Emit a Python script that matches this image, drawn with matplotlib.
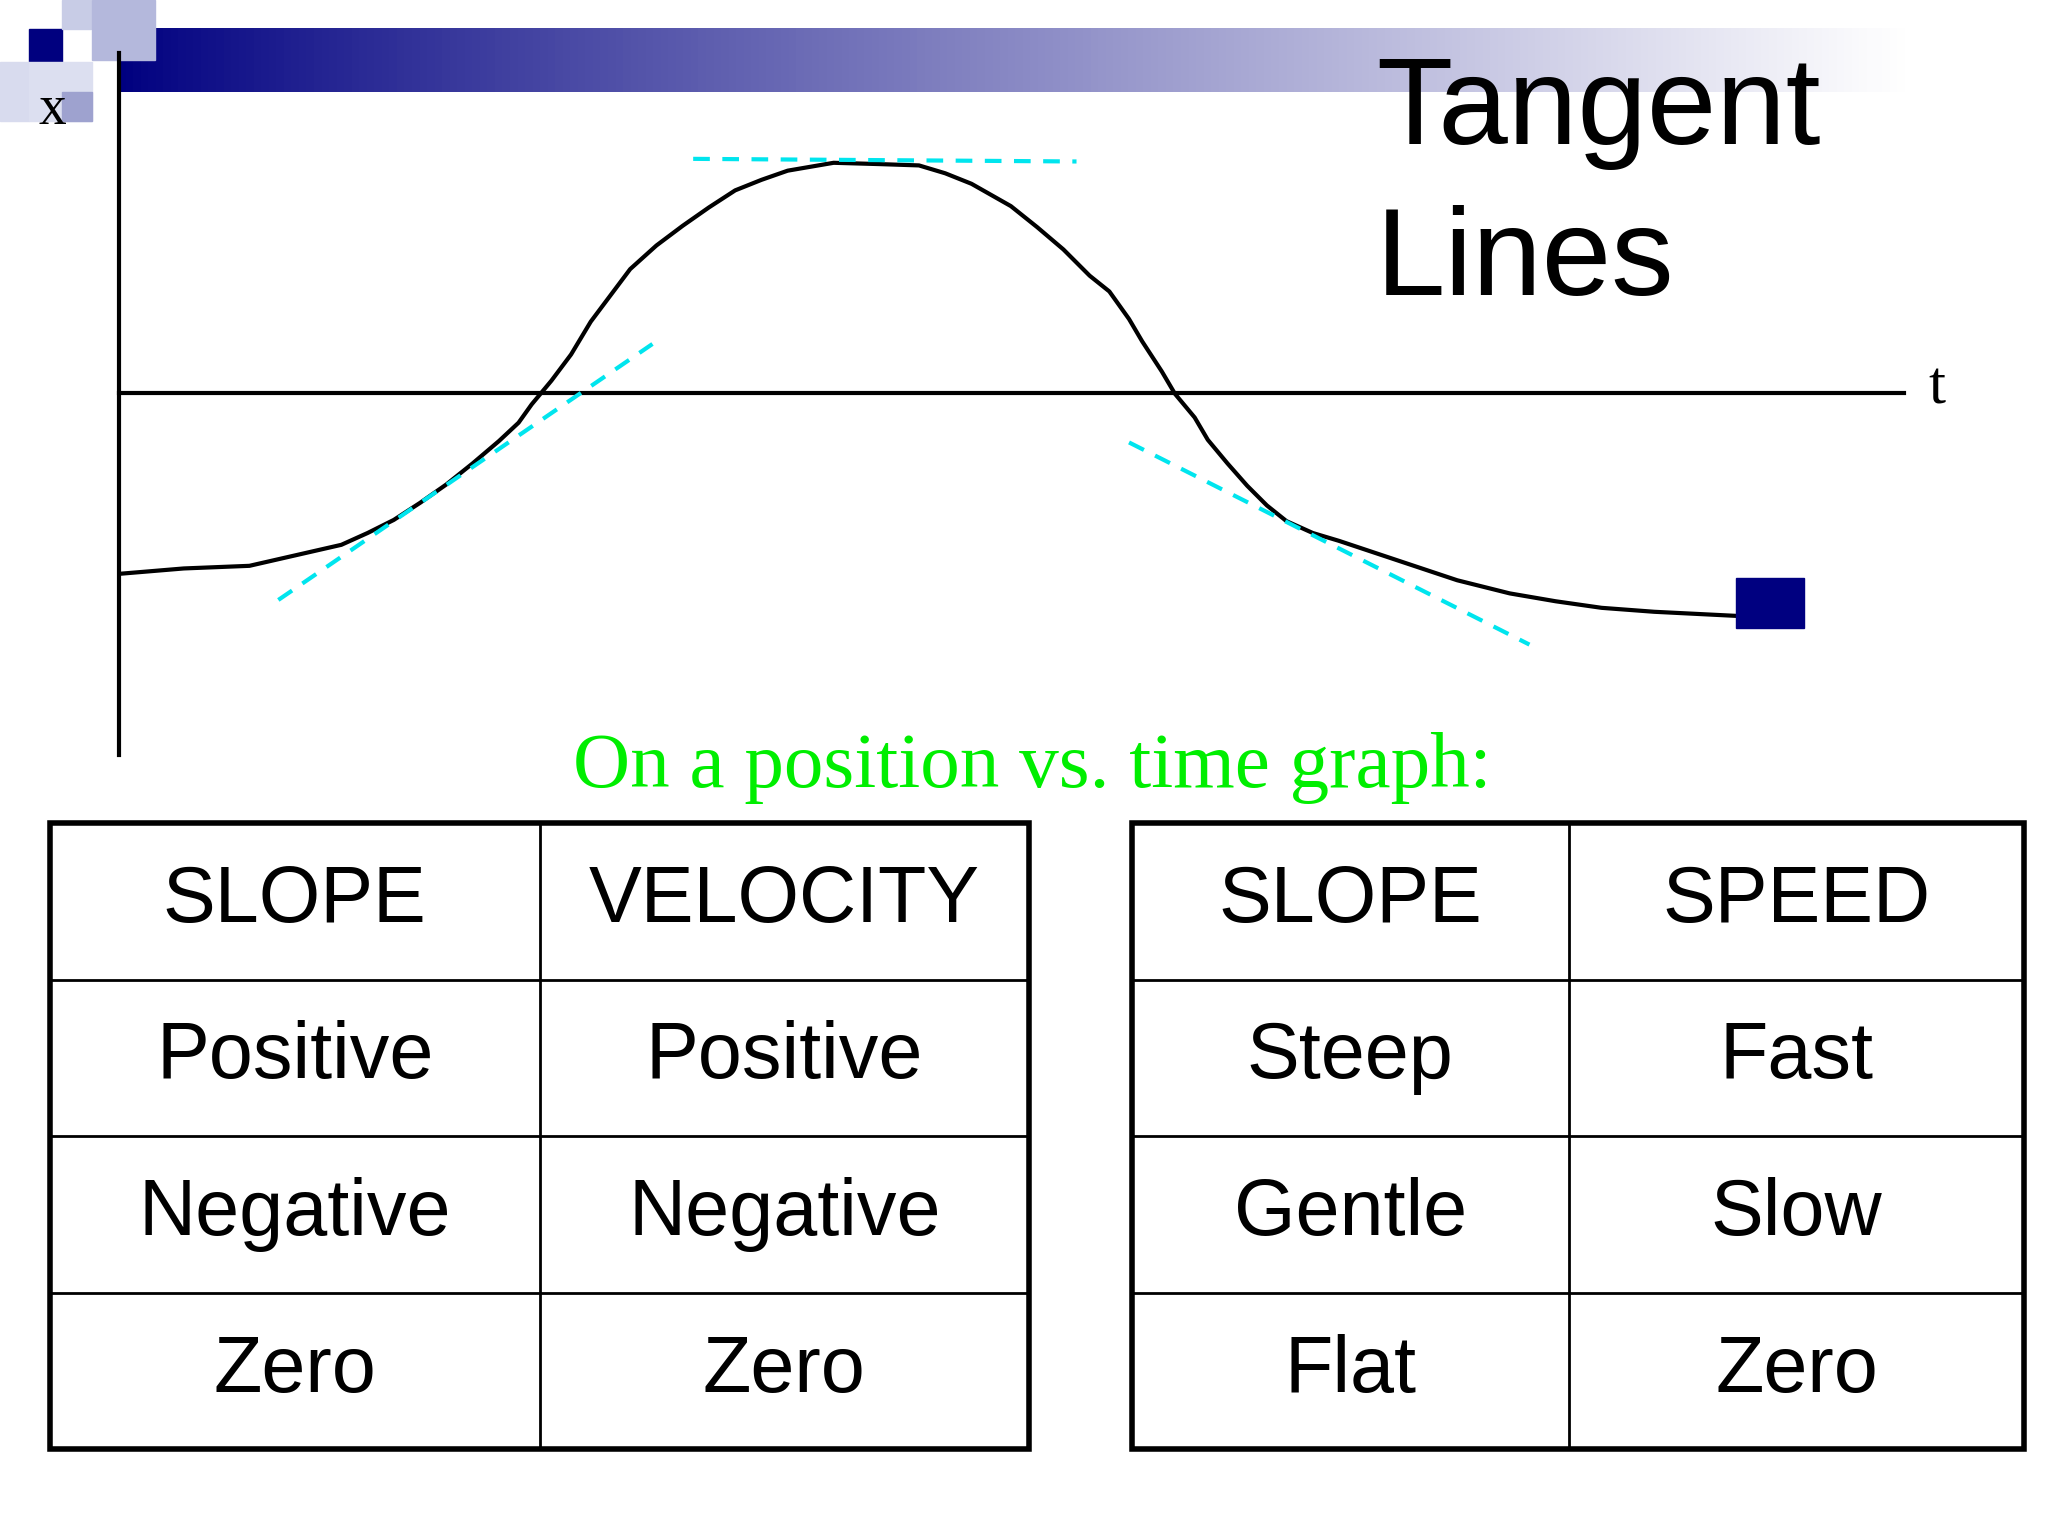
import matplotlib.pyplot as plt
import numpy as np
from matplotlib.patches import Rectangle

# picture is laid out in a 1560 x 1170 pixel frame
W, H = 1560, 1170

curve_x = [92, 140, 190, 225, 260, 280, 300, 320, 340, 360, 380, 395, 405, 420, 435, 450, 465,
           480, 500, 520, 540, 560, 580, 600, 635, 670, 700, 720, 740, 770, 790, 810, 830,
           845, 860, 870, 885, 895, 910, 920, 935, 950, 965, 980, 1000, 1020, 1050, 1080,
           1110, 1150, 1185, 1220, 1260, 1300, 1340]
curve_y = [437, 433, 431, 423, 415, 406, 396, 383, 369, 353, 336, 322, 308, 290, 270, 245, 225,
           205, 187, 172, 158, 145, 137, 130, 124, 125, 126, 132, 140, 157, 173, 190, 210,
           222, 243, 260, 283, 300, 318, 335, 353, 370, 385, 397, 406, 412, 422, 432,
           442, 452, 458, 463, 466, 468, 470]

tangents = [((212, 497), (457, 262)),
            ((528, 820), (121, 123)),
            ((860, 1165), (337, 491))]

left_rows = [["SLOPE", "VELOCITY"], ["Positive", "Positive"],
             ["Negative", "Negative"], ["Zero", "Zero"]]
right_rows = [["SLOPE", "SPEED"], ["Steep", "Fast"],
              ["Gentle", "Slow"], ["Flat", "Zero"]]

fig = plt.figure(figsize=(20.48, 15.36), dpi=100)
ax = fig.add_axes([0, 0, 1, 1])
ax.set_xlim(0, W)
ax.set_ylim(H, 0)
ax.axis("off")

# header gradient bar
grad = np.linspace(0, 1, 256).reshape(1, -1)
navy = np.array([0, 0, 0x80]) / 255
cols = navy + (1 - navy) * np.clip(grad * 1.08, 0, 1)[..., None] ** 0.9
ax.imshow(cols, extent=(90, 1560, 70, 22), aspect="auto", zorder=0)
# corner squares
for (x, y, w, h, c) in [(22, 22, 25, 25, "#00007f"), (47, 0, 22, 22, "#c8cce6"),
                        (70, 0, 48, 46, "#b4b8dc"), (0, 47, 22, 45, "#d8dbee"),
                        (22, 47, 48, 45, "#dcdff0"), (47, 70, 23, 22, "#9ea2cf")]:
    ax.add_patch(Rectangle((x, y), w, h, color=c, zorder=1))

# axes
ax.plot([91, 91], [40, 575], color="black", lw=3, zorder=3)
ax.plot([91, 1450], [299, 299], color="black", lw=3, zorder=3)
ax.text(40, 84, "x", fontsize=40, family="Liberation Serif", ha="center", va="center")
ax.text(1475, 296, "t", fontsize=44, family="Liberation Serif", ha="center", va="center")

ax.plot(curve_x, curve_y, color="black", lw=3, zorder=4)
for xs, ys in tangents:
    ax.plot(xs, ys, color="#00e5ee", lw=3, ls=(0, (4, 3)), zorder=5)
ax.add_patch(Rectangle((1322, 440), 52, 38, color="#000080", zorder=6))

ax.text(1048, 85, "Tangent", fontsize=90, family="Liberation Sans", ha="left", va="center")
ax.text(1048, 200, "Lines", fontsize=90, family="Liberation Sans", ha="left", va="center")
ax.text(786, 585, "On a position vs. time graph:", fontsize=57, color="#00ee00",
        family="Liberation Serif", ha="center", va="center")


def table(x0, xm, x1, rows):
    y0, rh = 627, 119.25
    y1 = y0 + rh * len(rows)
    ax.add_patch(Rectangle((x0, y0), x1 - x0, y1 - y0, fill=False, lw=4, zorder=3))
    ax.plot([xm, xm], [y0, y1], color="black", lw=2)
    for i in range(1, len(rows)):
        ax.plot([x0, x1], [y0 + i * rh] * 2, color="black", lw=2)
    for i, (a, b) in enumerate(rows):
        yc = y0 + (i + 0.5) * rh
        ax.text((x0 + xm) / 2, yc, a, fontsize=57, family="Liberation Sans", ha="center", va="center")
        ax.text((xm + x1) / 2, yc, b, fontsize=57, family="Liberation Sans", ha="center", va="center")


table(38, 411, 784, left_rows)
table(862, 1195, 1542, right_rows)

fig.savefig("out.png", dpi=100)
